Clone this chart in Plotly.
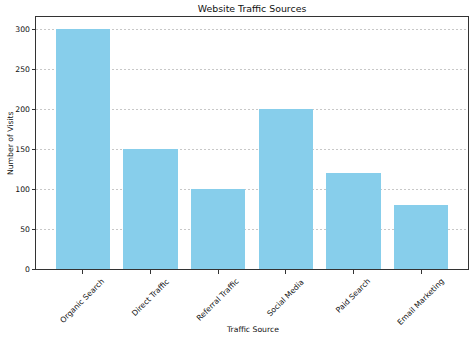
import plotly.graph_objects as go

categories = ["Organic Search", "Direct Traffic", "Referral Traffic", "Social Media", "Paid Search", "Email Marketing"]
visits = [300, 150, 100, 200, 120, 80]
y_ticks = [0, 50, 100, 150, 200, 250, 300]

font = "DejaVu Sans"
fs = 7.7
txt = "#111"
fig = go.Figure(go.Bar(x=list(range(len(categories))), y=visits, marker_color="#87CEEB", width=0.8,
                       marker_line_width=0))
for i, c in enumerate(categories):
    fig.add_annotation(x=i, y=0, xref="x", yref="paper", text=c, showarrow=False, textangle=-45,
                       xanchor="center", yanchor="top", yshift=-5, font=dict(size=fs, color=txt))
fig.update_layout(
    width=474, height=340,
    margin=dict(l=36, r=6, t=17, b=71, autoexpand=False),
    paper_bgcolor="white", plot_bgcolor="white",
    font=dict(family=font, size=fs, color=txt),
    title=dict(text="Website Traffic Sources", x=0.5, xref="paper", xanchor="center", y=1-9/340,
               yanchor="middle", font=dict(size=9.4, color=txt)),
    showlegend=False,
    bargap=0,
)
fig.update_xaxes(
    range=[-0.69, 5.69], tickmode="array", tickvals=list(range(len(categories))), showticklabels=False,
    ticks="outside", ticklen=3.5, tickcolor="#333", showgrid=False, automargin=False,
    showline=True, linecolor="#333", linewidth=1, mirror=True,
)
fig.add_annotation(x=0.5, y=-60/252, xref="paper", yref="paper", text="Traffic Source", showarrow=False,
                   xanchor="center", yanchor="middle", font=dict(size=fs, color=txt))
fig.add_annotation(x=-26/432, y=0.5, xref="paper", yref="paper", text="Number of Visits", showarrow=False,
                   textangle=-90, xanchor="center", yanchor="middle", font=dict(size=fs, color=txt))
fig.update_yaxes(
    range=[0, 315], tickmode="array", tickvals=y_ticks, ticks="outside", ticklen=3.5, tickcolor="#333",
    showgrid=True, gridcolor="#c8c8c8", griddash="2px,2px", gridwidth=0.7, automargin=False,
    showline=True, linecolor="#333", linewidth=1, mirror=True, tickfont=dict(size=fs, color=txt),
    zeroline=False,
)
fig.write_html("out.html")
